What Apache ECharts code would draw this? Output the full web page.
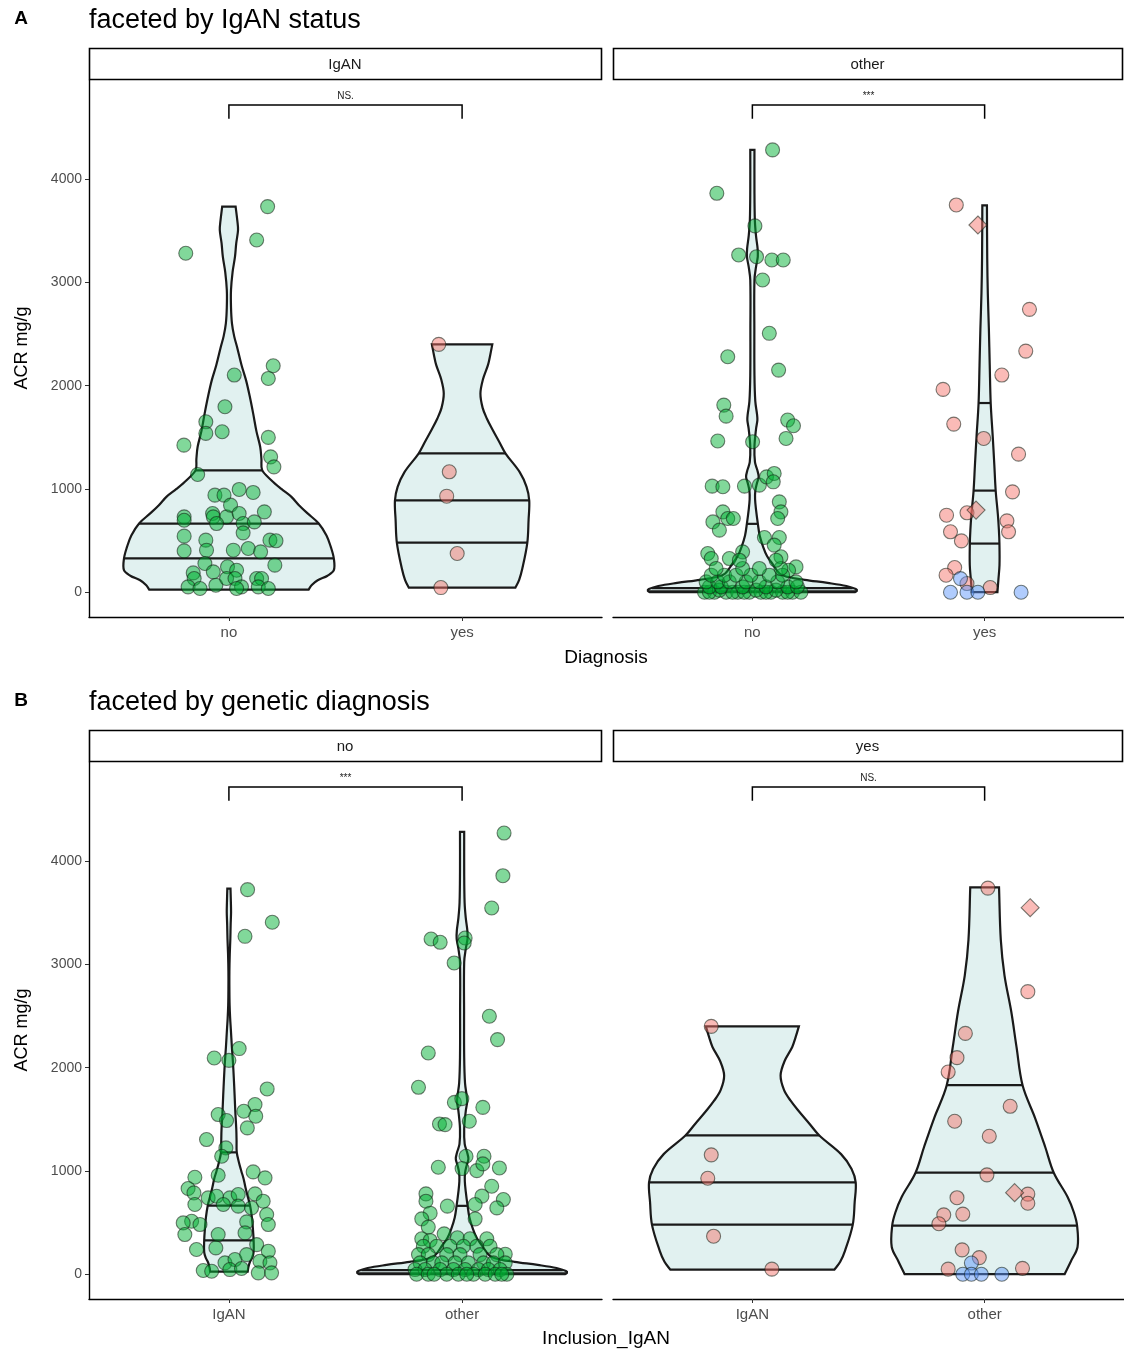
<!DOCTYPE html>
<html><head><meta charset="utf-8">
<script src="https://cdn.jsdelivr.net/npm/echarts@6/dist/echarts.min.js"></script>
<style>html,body{margin:0;padding:0;background:#fff}#c{width:1124px;height:1353px}</style>
</head><body><div id="c"></div>
<script>
// ---------------- DATA ----------------
const diagnosisCats = ['no', 'yes'];          // panel A x categories
const inclusionCats = ['IgAN', 'other'];      // panel B x categories
const facetsA = ['IgAN', 'other'];            // panel A strips
const facetsB = ['no', 'yes'];                // panel B strips
const yTicks = [0, 1000, 2000, 3000, 4000];
const sigA = ['NS.', '***'];
const sigB = ['***', 'NS.'];

// violin density outlines: [ACR value, relative half-width] (top -> bottom)
const shapeIgANno = [[3734,0.064],[3600,0.08],[3508,0.087],[3380,0.07],[3249,0.058],[3100,0.035],[2926,0.02],[2760,0.02],[2604,0.029],[2480,0.05],[2377,0.077],[2200,0.12],[2054,0.163],[1900,0.198],[1732,0.231],[1560,0.262],[1408,0.298],[1290,0.31],[1182,0.317],[1085,0.404],[1000,0.5],[923,0.596],[840,0.67],[763,0.75],[666,0.856],[550,0.93],[439,0.971],[326,1.0],[213,1.0],[160,0.94],[116,0.846],[70,0.79],[26,0.76]];
const shapeIgANyes = [[2400,0.45],[2300,0.42],[2201,0.386],[2060,0.31],[1924,0.273],[1785,0.306],[1680,0.37],[1578,0.45],[1460,0.55],[1343,0.648],[1163,0.858],[1020,0.96],[887,1.0],[700,0.99],[478,0.971],[229,0.897],[120,0.85],[45,0.794]];
const shapeOtherNo = [[4283,0.02],[3900,0.02],[3600,0.024],[3450,0.035],[3330,0.05],[3249,0.052],[3150,0.035],[3023,0.02],[2539,0.019],[2100,0.02],[1850,0.028],[1720,0.045],[1667,0.048],[1580,0.035],[1408,0.02],[1260,0.025],[1180,0.048],[1117,0.06],[1060,0.045],[980,0.028],[900,0.026],[800,0.035],[666,0.052],[550,0.07],[439,0.103],[350,0.14],[278,0.19],[181,0.26],[150,0.33],[120,0.5],[90,0.72],[60,0.9],[30,0.99],[12,1.0],[0,0.98]];
const shapeOtherYes = [[3745,0.155],[3237,0.174],[2892,0.214],[2546,0.286],[2201,0.343],[1827,0.409],[1510,0.544],[1232,0.652],[980,0.745],[748,0.893],[600,0.96],[471,0.995],[264,1.0],[126,0.929],[0,0.861]];

// quantile lines (25%, 50%, 75%)
const quantIgANno = [327, 664, 1180];
const quantIgANyes = [480, 889, 1345];
const quantOtherNo = [8, 40, 662];
const quantOtherYes = [471, 984, 1832];

// maximum violin half-width per panel (category units, area-scaled)
const widthA = { IgANno: 0.45, IgANyes: 0.288, otherNo: 0.45, otherYes: 0.064 };
const widthB = { IgANno: 0.106, otherNo: 0.45, IgANyes: 0.445, otherYes: 0.4 };

// jittered points: [jitter offset, ACR value]
const ptsA_IgANno = [[0.166,3734],[0.119,3411],[-0.185,3282],[0.023,2103],[0.19,2193],[0.169,2070],[-0.017,1796],[-0.099,1650],[-0.099,1538],[-0.029,1554],[-0.193,1424],[0.169,1499],[0.179,1311],[0.193,1214],[-0.134,1140],[-0.06,940],[-0.021,940],[0.044,995],[0.104,966],[0.152,778],[-0.192,730],[-0.192,697],[-0.07,762],[-0.067,730],[-0.01,730],[0.007,843],[0.044,762],[0.061,665],[0.109,681],[0.061,575],[-0.053,665],[-0.192,543],[-0.099,504],[-0.192,400],[-0.096,407],[0.019,407],[0.083,423],[0.136,391],[0.176,504],[0.202,498],[0.197,262],[-0.103,278],[-0.006,246],[-0.067,197],[0.033,213],[-0.153,187],[-0.149,133],[0.119,133],[0.14,133],[-0.175,52],[-0.124,36],[-0.056,68],[-0.01,133],[0.026,133],[0.054,52],[0.126,52],[0.169,36],[0.033,36]];
const ptsA_IgANyes = [[-0.1,2400],[-0.055,1166],[-0.066,930],[-0.021,375],[-0.091,45]];
const ptsA_otherNo = [[0.087,4283],[-0.153,3863],[0.011,3547],[-0.059,3266],[0.018,3249],[0.084,3217],[0.133,3217],[0.044,3023],[0.073,2507],[-0.106,2280],[0.113,2151],[-0.123,1812],[-0.113,1705],[0.152,1667],[0.177,1612],[0.145,1489],[-0.149,1464],[0.001,1457],[-0.173,1027],[-0.127,1021],[-0.034,1027],[0.03,1037],[0.061,1117],[0.094,1150],[0.09,1069],[0.116,875],[0.123,778],[0.109,714],[-0.127,778],[-0.17,681],[-0.106,714],[-0.082,714],[-0.142,601],[0.052,530],[0.116,530],[0.094,456],[-0.042,391],[0.123,343],[-0.099,326],[-0.192,375],[-0.177,326],[0.188,245],[0.156,213],
  [-0.206,0],[-0.163,0],[-0.113,0],[-0.063,0],[-0.013,0],[0.037,0],[0.08,0],[0.13,0],[0.173,0],[0.209,0],[-0.185,0],[-0.085,0],[-0.035,0],[0.059,0],[0.152,0],
  [-0.142,20],[0.016,20],[0.102,20],
  [-0.185,52],[-0.134,52],[-0.042,52],[0.059,52],[0.152,52],[0.194,52],
  [-0.199,100],[-0.149,100],[-0.099,100],[-0.027,100],[0.03,100],[0.109,100],[0.188,100],
  [-0.177,165],[-0.12,165],[-0.07,165],[-0.006,165],[0.073,165],[0.13,165],
  [-0.156,230],[-0.042,230],[0.03,230],[0.123,230],[-0.056,310],[0.102,310]];
const ptsA_otherYes = [[-0.122,3750],[0.193,2739],[0.177,2335],[0.074,2103],[-0.179,1964],[-0.133,1628],[-0.004,1489],[0.146,1337],[0.12,972],[-0.164,746],[-0.076,769],[0.096,691],[0.103,585],[-0.147,585],[-0.1,497],[-0.129,239],[-0.166,165],[0.024,45],[-0.076,84]];
const ptsA_otherYesDiamond = [[-0.029,3556],[-0.037,795]];
const ptsA_otherYesBlue = [[-0.104,132],[-0.147,0],[-0.076,0],[-0.029,0],[0.157,0]];

const ptsB_IgANno = [[0.08,3724],[0.186,3408],[0.069,3272],[0.044,2185],[-0.063,2094],[0,2071],[0.164,1794],[0.112,1643],[-0.046,1546],[0.064,1578],[0.115,1530],[-0.01,1488],[0.079,1417],[-0.096,1304],[-0.013,1223],[-0.031,1142],[-0.046,958],[0.104,991],[0.155,933],[-0.146,939],[-0.175,830],[-0.15,788],[-0.089,739],[-0.053,755],[0.004,739],[0.04,772],[0.112,778],[0.147,707],[-0.146,675],[-0.024,675],[0.04,659],[0.097,642],[0.162,578],[0.169,481],[-0.16,513],[-0.196,497],[-0.189,384],[-0.124,481],[-0.046,384],[0.076,507],[0.069,400],[-0.139,239],[-0.056,255],[0.119,287],[0.169,223],[-0.017,110],[0.026,142],[0.076,190],[0.133,126],[0.176,110],[-0.11,36],[-0.074,29],[0.004,45],[0.054,55],[0.126,13],[0.183,13]];
const ptsB_otherNo = [[0.18,4272],[0.175,3859],[0.127,3546],[-0.133,3246],[-0.094,3214],[0.013,3256],[0.009,3207],[-0.034,3014],[0.117,2498],[0.152,2272],[-0.145,2142],[-0.187,1810],[-0.033,1664],[-0.001,1700],[0.089,1616],[-0.097,1455],[-0.073,1449],[0.031,1481],[0.017,1142],[0.094,1142],[-0.102,1036],[0,1023],[0.063,1003],[0.089,1068],[0.16,1029],[0.127,852],[0.177,723],[0.149,642],[-0.155,778],[-0.155,707],[0.085,756],[-0.063,659],[0.056,675],[-0.137,591],[-0.173,536],[0.056,536],[-0.145,456],[-0.077,391],[-0.173,343],[-0.137,327],[-0.02,353],[0.106,343],[0.034,343],[0.185,194],
  [-0.166,271],[-0.109,271],[-0.052,271],[0.006,271],[0.063,271],[0.12,271],
  [-0.187,190],[-0.145,190],[-0.066,190],[-0.009,190],[0.077,190],[0.149,190],
  [-0.18,110],[-0.123,110],[-0.087,110],[-0.03,110],[0.027,110],[0.092,110],[0.134,110],[0.185,110],
  [-0.202,45],[-0.159,45],[-0.094,45],[-0.037,45],[0.013,45],[0.07,45],[0.113,45],[0.163,45],
  [-0.195,0],[-0.145,0],[-0.066,0],[-0.016,0],[0.049,0],[0.099,0],[0.142,0],[0.192,0],[-0.12,0],[0.02,0],[0.17,0]];
const ptsB_IgANyes = [[-0.177,2400],[-0.177,1156],[-0.192,929],[-0.167,368],[0.084,49]];
const ptsB_otherYes = [[0.014,3739],[0.186,2736],[-0.083,2332],[-0.119,2097],[-0.157,1958],[0.11,1626],[-0.129,1481],[0.02,1336],[0.01,962],[0.186,776],[0.186,687],[-0.119,741],[-0.176,575],[-0.094,582],[-0.197,489],[-0.097,236],[-0.023,161],[-0.157,49],[0.163,57]];
const ptsB_otherYesDiamond = [[0.196,3549],[0.129,790]];
const ptsB_otherYesBlue = [[-0.057,108],[-0.094,0],[-0.057,0],[-0.014,0],[0.074,0]];

// significance bracket level, drop end and label level (ACR units)
const bracketLevel = [4717, 4585, 4800];

// ---------------- STYLE / LAYOUT ----------------
const FONT = "'Liberation Sans', Arial, Helvetica, sans-serif";
const Y_MIN = -240, Y_MAX = 4960;
const VIOLIN_FILL = '#e1f1f0';
const GREEN = 'rgba(0,176,50,0.62)';
const PINK = 'rgba(245,112,104,0.6)';
const BLUE = 'rgba(90,148,250,0.6)';
const EDGE = 'rgba(20,30,20,0.7)';

const gridDefs = [
  { left: 89, top: 80, width: 513, height: 537 },
  { left: 613, top: 80, width: 511, height: 537 },
  { left: 89, top: 762, width: 513, height: 537 },
  { left: 613, top: 762, width: 511, height: 537 }
];

const panels = [
  { cats: diagnosisCats, sig: sigA[0],
    violins: [{cat:1, shape:shapeIgANno, q:quantIgANno, w:widthA.IgANno}, {cat:2, shape:shapeIgANyes, q:quantIgANyes, w:widthA.IgANyes}],
    points: [{cat:1, data:ptsA_IgANno, color:GREEN}, {cat:2, data:ptsA_IgANyes, color:PINK}] },
  { cats: diagnosisCats, sig: sigA[1],
    violins: [{cat:1, shape:shapeOtherNo, q:quantOtherNo, w:widthA.otherNo}, {cat:2, shape:shapeOtherYes, q:quantOtherYes, w:widthA.otherYes}],
    points: [{cat:1, data:ptsA_otherNo, color:GREEN}, {cat:2, data:ptsA_otherYes, color:PINK}, {cat:2, data:ptsA_otherYesBlue, color:BLUE}, {cat:2, data:ptsA_otherYesDiamond, color:PINK, diamond:true}] },
  { cats: inclusionCats, sig: sigB[0],
    violins: [{cat:1, shape:shapeIgANno, q:quantIgANno, w:widthB.IgANno}, {cat:2, shape:shapeOtherNo, q:quantOtherNo, w:widthB.otherNo}],
    points: [{cat:1, data:ptsB_IgANno, color:GREEN}, {cat:2, data:ptsB_otherNo, color:GREEN}] },
  { cats: inclusionCats, sig: sigB[1],
    violins: [{cat:1, shape:shapeIgANyes, q:quantIgANyes, w:widthB.IgANyes}, {cat:2, shape:shapeOtherYes, q:quantOtherYes, w:widthB.otherYes}],
    points: [{cat:1, data:ptsB_IgANyes, color:PINK}, {cat:2, data:ptsB_otherYes, color:PINK}, {cat:2, data:ptsB_otherYesBlue, color:BLUE}, {cat:2, data:ptsB_otherYesDiamond, color:PINK, diamond:true}] }
];

function halfAt(shape, v) {
  for (let i = 0; i < shape.length - 1; i++) {
    const a = shape[i], b = shape[i + 1];
    if (v <= a[0] && v >= b[0]) {
      const t = (a[0] - v) / (a[0] - b[0] || 1);
      return a[1] + (b[1] - a[1]) * t;
    }
  }
  return shape[shape.length - 1][1];
}

function violinSeries(gi, v) {
  return {
    type: 'custom', xAxisIndex: gi, yAxisIndex: gi, z: 2, silent: true,
    data: [[v.cat, v.shape[0][0]]],
    renderItem: function (params, api) {
      const s = v.shape, n = s.length;
      const R = s.map(p => api.coord([v.cat + p[1] * v.w, p[0]]));
      const L = s.map(p => api.coord([v.cat - p[1] * v.w, p[0]]));
      const poly = [L[0], L[0], R[0], R[0]];
      for (let i = 1; i < n - 1; i++) poly.push(R[i]);
      poly.push(R[n - 1], R[n - 1], L[n - 1], L[n - 1]);
      for (let i = n - 2; i >= 1; i--) poly.push(L[i]);
      const children = [{
        type: 'polygon', shape: { points: poly, smooth: 0.35 },
        style: { fill: VIOLIN_FILL, stroke: '#1a1a1a', lineWidth: 2.2 }
      }];
      v.q.forEach(q => {
        const h = halfAt(s, q) * v.w;
        const a = api.coord([v.cat - h, q]), b = api.coord([v.cat + h, q]);
        children.push({ type: 'line', shape: { x1: a[0], y1: a[1], x2: b[0], y2: b[1] },
          style: { stroke: '#1a1a1a', lineWidth: 2.2 } });
      });
      return { type: 'group', children };
    }
  };
}

function bracketSeries(gi, label) {
  return {
    type: 'custom', xAxisIndex: gi, yAxisIndex: gi, z: 4, silent: true,
    data: [[1, bracketLevel[0]]],
    renderItem: function (params, api) {
      const p1 = api.coord([1, bracketLevel[0]]), p2 = api.coord([2, bracketLevel[0]]);
      const d1 = api.coord([1, bracketLevel[1]]), d2 = api.coord([2, bracketLevel[1]]);
      const t = api.coord([1.5, bracketLevel[2]]);
      return { type: 'group', children: [
        { type: 'polyline', shape: { points: [d1, p1, p2, d2] }, style: { stroke: '#000', lineWidth: 1.5, fill: 'none' } },
        { type: 'text', x: t[0], y: t[1], style: { text: label, fill: '#222', fontSize: 10, fontFamily: FONT, textAlign: 'center', textVerticalAlign: 'middle' } }
      ] };
    }
  };
}

const grid = gridDefs.map(g => Object.assign({ containLabel: false }, g));
const xAxis = panels.map((p, i) => ({
  gridIndex: i, type: 'value', min: 0.4, max: 2.6,
  axisLine: { show: true, onZero: false, lineStyle: { color: '#000', width: 1.4 } },
  axisTick: { show: true, customValues: [1, 2], length: 4, lineStyle: { color: '#333', width: 1 } },
  axisLabel: { customValues: [1, 2], formatter: v => p.cats[Math.round(v) - 1], color: '#4d4d4d', fontSize: 15, fontFamily: FONT, margin: 8 },
  splitLine: { show: false }
}));
const yAxis = panels.map((p, i) => ({
  gridIndex: i, type: 'value', min: Y_MIN, max: Y_MAX, show: i % 2 === 0,
  axisLine: { show: true, onZero: false, lineStyle: { color: '#000', width: 1.4 } },
  axisTick: { show: true, customValues: yTicks, length: 4, lineStyle: { color: '#333', width: 1 } },
  axisLabel: { customValues: yTicks, formatter: v => String(v), color: '#4d4d4d', fontSize: 14, fontFamily: FONT, margin: 7 },
  splitLine: { show: false }
}));

const series = [];
panels.forEach((p, gi) => {
  p.violins.forEach(v => series.push(violinSeries(gi, v)));
  p.points.forEach(pt => series.push({
    type: 'scatter', xAxisIndex: gi, yAxisIndex: gi, z: 3, silent: true,
    symbol: pt.diamond ? 'diamond' : 'circle', symbolSize: pt.diamond ? 18 : 14,
    data: pt.data.map(d => [pt.cat + d[0], d[1]]),
    itemStyle: { color: pt.color, borderColor: EDGE, borderWidth: 1.1 }
  }));
  series.push(bracketSeries(gi, p.sig));
});

function txt(x, y, text, size, opts) {
  return Object.assign({ type: 'text', x, y, silent: true,
    style: Object.assign({ text, fill: '#000', fontSize: size, fontFamily: FONT, textAlign: 'center', textVerticalAlign: 'middle' }, (opts && opts.style) || {}) },
    (opts && opts.el) || {});
}
function strip(x, y, w, h, label) {
  return [
    { type: 'rect', silent: true, shape: { x: x + 0.5, y: y + 0.5, width: w, height: h }, style: { fill: '#fff', stroke: '#000', lineWidth: 1.6 } },
    txt(x + w / 2, y + h / 2 + 1, label, 15, { style: { fill: '#1a1a1a' } })
  ];
}

const graphic = [].concat(
  [txt(21, 19, 'A', 19, { style: { fontWeight: 'bold' } }),
   txt(89, 21, 'faceted by IgAN status', 27, { style: { textAlign: 'left' } }),
   txt(21, 701, 'B', 19, { style: { fontWeight: 'bold' } }),
   txt(89, 703, 'faceted by genetic diagnosis', 27, { style: { textAlign: 'left' } })],
  strip(89, 48, 512, 31, facetsA[0]), strip(613, 48, 509, 31, facetsA[1]),
  strip(89, 730, 512, 31, facetsB[0]), strip(613, 730, 509, 31, facetsB[1]),
  [txt(606, 658, 'Diagnosis', 19),
   txt(606, 1339, 'Inclusion_IgAN', 19),
   txt(22, 348, 'ACR mg/g', 18, { el: { rotation: Math.PI / 2 } }),
   txt(22, 1030, 'ACR mg/g', 18, { el: { rotation: Math.PI / 2 } })]
);

const chart = echarts.init(document.getElementById('c'), null, { renderer: 'canvas' });
chart.setOption({ animation: false, backgroundColor: '#fff', grid, xAxis, yAxis, series, graphic });
</script></body></html>
